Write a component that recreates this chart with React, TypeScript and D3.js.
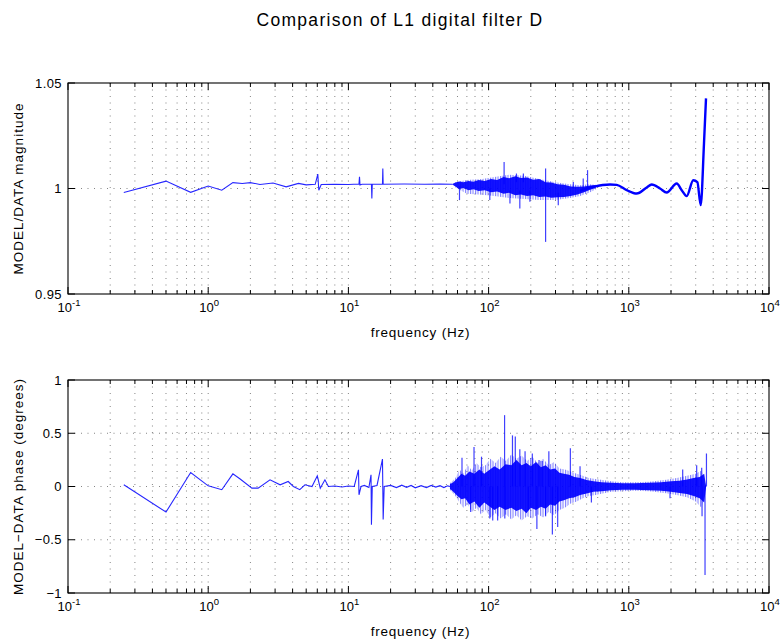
import React from 'react';
import * as d3 from 'd3';

// ---------- axis / tick data ----------
const xTickExps = [-1, 0, 1, 2, 3, 4];
const magTicks = [0.95, 1, 1.05];
const magTickLabels = ['0.95', '1', '1.05'];
const phaseTicks = [-1, -0.5, 0, 0.5, 1];
const phaseTickLabels = ['\u22121', '\u22120.5', '0', '0.5', '1'];
const titleText = 'Comparison of L1 digital filter D';
const magTitle = 'MODEL/DATA magnitude';
const phaseTitle = 'MODEL\u2212DATA phase (degrees)';
const xTitle = 'frequency (Hz)';

// ---------- magnitude (top panel) ----------
const magLowFreq = [0.25, 0.5, 0.75, 1, 1.25, 1.5, 1.75, 2, 2.34, 2.9, 3.6, 4.4, 5, 5.8, 6.05, 6.15, 6.4, 8, 10, 11.9, 12, 12.1, 12.5, 14.6, 14.7, 14.8, 17.5, 17.6, 17.7, 25, 35, 45, 55];
const magLowVal = [0.9981, 1.0035, 0.9982, 1.0012, 0.9992, 1.0028, 1.0024, 1.0028, 1.0019, 1.0026, 1.0008, 1.0024, 1.0017, 1.002, 1.0068, 0.9992, 1.0019, 1.002, 1.0019, 1.0021, 1.0055, 1.0017, 1.002, 1.002, 0.9953, 1.002, 1.002, 1.0095, 1.002, 1.0021, 1.002, 1.0021, 1.002];

const magBandFreq = [55, 58, 62, 66, 72, 78, 85, 94, 104, 115, 128, 140, 155, 170, 188, 208, 230, 255, 280, 310, 345, 385, 430, 480, 530, 580];
const magBandHi = [1.0021, 1.0028, 1.0033, 1.003, 1.0036, 1.0032, 1.004, 1.0036, 1.0045, 1.004, 1.0055, 1.0048, 1.0058, 1.005, 1.0052, 1.0042, 1.0045, 1.003, 1.0028, 1.002, 1.0018, 1.001, 1.0008, 1.001, 1.0014, 1.0017];
const magBandLo = [1.0019, 1.001, 0.9998, 1.0002, 0.9992, 0.9996, 0.9988, 0.9992, 0.9982, 0.9986, 0.9975, 0.998, 0.9968, 0.9972, 0.9964, 0.9968, 0.996, 0.9962, 0.9956, 0.9958, 0.996, 0.9964, 0.9972, 0.9982, 0.9994, 1.0002];

const magFringeFreq = [58, 70, 90, 110, 140, 180, 230, 300, 380, 450, 520, 580];
const magFringeHi = [1.003, 1.004, 1.0045, 1.0055, 1.0065, 1.006, 1.0045, 1.003, 1.002, 1.0015, 1.002, 1.0018];
const magFringeLo = [1.0005, 0.9975, 0.997, 0.9965, 0.9955, 0.995, 0.9945, 0.9945, 0.9955, 0.9965, 0.998, 0.9995];

const magHighFreq = [449, 558, 735, 820, 966, 1138, 1342, 1457, 1670, 1863, 2198, 2384, 2588, 2884, 3083, 3258, 3438, 3554];
const magHighVal = [0.999, 1.0008, 1.0019, 1.0017, 0.9992, 0.9976, 1.0005, 1.0019, 1.0, 0.9981, 1.0024, 0.9992, 0.9964, 1.0039, 1.003, 0.9921, 1.0213, 1.0427];

const magSpikeFreq = [62, 102, 129, 142, 158, 167, 177, 197, 255, 314, 402, 473, 508];
const magSpikeFrom = [1.001, 1.0, 1.002, 0.999, 1.003, 0.999, 1.003, 0.999, 0.9747, 0.998, 1.0, 1.0, 1.0];
const magSpikeTo = [0.9945, 0.9945, 1.0126, 0.9929, 1.0071, 0.9905, 1.0071, 0.9937, 1.0095, 0.9921, 1.0031, 1.0047, 1.0087];

// ---------- phase (bottom panel) ----------
const phaseLowFreq = [0.25, 0.5, 0.75, 1, 1.25, 1.5, 1.69, 2.05, 2.27, 2.76, 3.26, 3.72, 4.05, 4.5, 4.9, 5.5, 6.0, 6.3, 6.8, 7.2, 8, 9, 10, 11, 11.8, 11.9, 12.3, 13, 14, 14.5, 14.6, 14.8, 16, 17.5, 17.7, 18, 20, 22, 24, 26, 28, 30, 33, 36, 39, 42, 45, 48, 51, 53];
const phaseLowVal = [0.016, -0.24, 0.131, 0.006, -0.03, 0.119, 0.07, -0.015, -0.015, 0.063, 0.016, 0.047, 0.0, -0.03, 0.016, 0.0, 0.1, -0.016, 0.063, 0.0, 0.005, -0.005, 0.005, 0.0, 0.156, -0.078, 0.0, 0.01, -0.01, 0.11, -0.36, 0.0, 0.01, 0.257, -0.31, 0.0, 0.01, -0.01, 0.012, -0.008, 0.01, -0.012, 0.008, -0.01, 0.01, -0.006, 0.008, -0.01, 0.006, 0.0];

const phaseCoreFreq = [53, 56, 60, 64, 68, 73, 79, 86, 93, 100, 110, 120, 132, 145, 158, 172, 186, 200, 218, 236, 255, 275, 298, 320, 345, 375, 410, 450, 500, 560, 640, 750, 900, 1100, 1400, 1700, 2000, 2300, 2600, 2900, 3200, 3450, 3560];
const phaseCoreHi = [0.02, 0.04, 0.08, 0.12, 0.1, 0.14, 0.12, 0.16, 0.12, 0.15, 0.19, 0.16, 0.21, 0.2, 0.25, 0.2, 0.22, 0.19, 0.23, 0.18, 0.2, 0.16, 0.17, 0.13, 0.12, 0.11, 0.09, 0.08, 0.06, 0.05, 0.04, 0.035, 0.03, 0.03, 0.035, 0.04, 0.05, 0.055, 0.065, 0.08, 0.09, 0.12, 0];
const phaseCoreLo = [-0.02, -0.05, -0.09, -0.12, -0.11, -0.17, -0.14, -0.2, -0.15, -0.18, -0.22, -0.19, -0.22, -0.2, -0.23, -0.21, -0.25, -0.2, -0.22, -0.19, -0.21, -0.17, -0.18, -0.14, -0.13, -0.11, -0.1, -0.08, -0.065, -0.05, -0.045, -0.035, -0.03, -0.03, -0.035, -0.04, -0.05, -0.06, -0.07, -0.09, -0.11, -0.15, 0];

const phaseFringeFreq = [53, 58, 62, 66, 71, 76, 82, 88, 95, 103, 112, 122, 133, 145, 158, 172, 188, 205, 224, 245, 268, 293, 320, 350, 385, 425, 470, 520, 580, 650, 750, 900, 1100, 1400, 1800, 2200, 2600, 3000, 3300, 3560];
const phaseFringeHi = [0.03, 0.08, 0.16, 0.12, 0.2, 0.15, 0.22, 0.18, 0.2, 0.26, 0.22, 0.28, 0.24, 0.3, 0.26, 0.29, 0.24, 0.28, 0.22, 0.26, 0.2, 0.23, 0.17, 0.16, 0.14, 0.12, 0.1, 0.08, 0.07, 0.06, 0.05, 0.04, 0.04, 0.045, 0.06, 0.08, 0.1, 0.12, 0.15, 0];
const phaseFringeLo = [-0.03, -0.09, -0.15, -0.2, -0.17, -0.24, -0.2, -0.26, -0.22, -0.29, -0.25, -0.3, -0.26, -0.31, -0.27, -0.32, -0.28, -0.3, -0.26, -0.29, -0.24, -0.27, -0.22, -0.2, -0.16, -0.14, -0.11, -0.09, -0.08, -0.065, -0.05, -0.045, -0.04, -0.045, -0.06, -0.08, -0.1, -0.14, -0.2, 0];

const phaseSpikeFreq = [64.6, 74.5, 78.7, 89, 102, 107, 116, 130, 130.5, 148, 155, 167, 182, 192, 205, 221, 229, 241, 255, 269, 285, 311, 383, 449, 541, 1968, 2423, 3049, 3311, 3330, 3497, 3580];
const phaseSpikeVal = [0.27, -0.24, 0.37, 0.28, -0.3, -0.32, -0.32, 0.67, -0.3, 0.48, 0.47, 0.35, 0.33, -0.22, 0.31, -0.4, 0.25, 0.24, -0.28, 0.33, -0.45, -0.38, 0.36, 0.19, -0.15, -0.11, 0.16, 0.2, 0.175, -0.28, -0.83, 0.31];

// ---------- layout ----------
const W = 780;
const H = 642;
const FONT = '"Liberation Sans", Arial, Helvetica, sans-serif';
const L = 68;
const R = 769;
const P1 = { top: 83, bottom: 294 };
const P2 = { top: 380, bottom: 593 };
const BLUE = '#0000ff';

const x = d3.scaleLog().domain([0.1, 1e4]).range([L, R]);
const yM = d3.scaleLinear().domain([0.95, 1.05]).range([P1.bottom, P1.top]);
const yP = d3.scaleLinear().domain([-1, 1]).range([P2.bottom, P2.top]);

const majorX = xTickExps.map((e) => Math.pow(10, e));
const minorX: number[] = [];
for (let e = -1; e < 4; e++) for (let m = 2; m <= 9; m++) minorX.push(m * Math.pow(10, e));

type Pt = [number, number];
const zip2 = (a: number[], b: number[]): Pt[] => a.map((v, i) => [v, b[i]]);

function Axes(props: {
  top: number;
  bottom: number;
  y: d3.ScaleLinear<number, number>;
  ticks: number[];
  labels: string[];
  title: string;
}) {
  const { top, bottom, y, ticks, labels, title } = props;
  const gridStyle = { stroke: '#777', strokeWidth: 0.9, strokeDasharray: '1 5.5', fill: 'none' };
  const cy = (top + bottom) / 2;
  return (
    <g>
      {[...majorX.slice(1, -1), ...minorX].map((v, i) => (
        <line key={'vg' + i} x1={x(v)} x2={x(v)} y1={top} y2={bottom} style={gridStyle} />
      ))}
      {ticks.slice(1, -1).map((v, i) => (
        <line key={'hg' + i} x1={L} x2={R} y1={y(v)} y2={y(v)} style={gridStyle} />
      ))}
      <rect x={L} y={top} width={R - L} height={bottom - top} fill="none" stroke="#000" strokeWidth={1.1} />
      {majorX.map((v, i) => (
        <g key={'xt' + i}>
          <line x1={x(v)} x2={x(v)} y1={bottom} y2={bottom - 7} stroke="#000" strokeWidth={1} />
          <line x1={x(v)} x2={x(v)} y1={top} y2={top + 7} stroke="#000" strokeWidth={1} />
        </g>
      ))}
      {minorX.map((v, i) => (
        <g key={'xm' + i}>
          <line x1={x(v)} x2={x(v)} y1={bottom} y2={bottom - 4} stroke="#000" strokeWidth={1} />
          <line x1={x(v)} x2={x(v)} y1={top} y2={top + 4} stroke="#000" strokeWidth={1} />
        </g>
      ))}
      {ticks.map((v, i) => (
        <g key={'yt' + i}>
          <line x1={L} x2={L + 7} y1={y(v)} y2={y(v)} stroke="#000" strokeWidth={1} />
          <line x1={R} x2={R - 7} y1={y(v)} y2={y(v)} stroke="#000" strokeWidth={1} />
          <text x={62} y={y(v) + 4.5} textAnchor="end" fontSize={13} fontFamily={FONT} letterSpacing={0.4} fill="#000">
            {labels[i]}
          </text>
        </g>
      ))}
      {xTickExps.map((e, i) => (
        <text key={'xl' + i} x={x(majorX[i]) + 1} y={bottom + 18} textAnchor="middle" fontSize={13} fontFamily={FONT} fill="#000">
          <tspan>10</tspan>
          <tspan dy={-6} fontSize={9.5}>{e}</tspan>
        </text>
      ))}
      <text x={(L + R) / 2 + 2} y={bottom + 43} textAnchor="middle" fontSize={13.5} letterSpacing={0.8} fontFamily={FONT} fill="#000">
        {xTitle}
      </text>
      <text transform={`translate(23,${cy}) rotate(-90)`} textAnchor="middle" fontSize={13.5} letterSpacing={1} fontFamily={FONT} fill="#000">
        {title}
      </text>
    </g>
  );
}

export default function App() {
  const lineM = d3.line<Pt>().x((d) => x(d[0])).y((d) => yM(d[1]));
  const lineMSmooth = d3.line<Pt>().x((d) => x(d[0])).y((d) => yM(d[1])).curve(d3.curveMonotoneX);
  const lineP = d3.line<Pt>().x((d) => x(d[0])).y((d) => yP(d[1]));

  const areaM = (f: number[], hi: number[], lo: number[]) =>
    d3
      .area<number>()
      .x((_, i) => x(f[i]))
      .y0((_, i) => yM(lo[i]))
      .y1((_, i) => yM(hi[i]))(f) || '';
  const areaP = (f: number[], hi: number[], lo: number[]) =>
    d3
      .area<number>()
      .x((_, i) => x(f[i]))
      .y0((_, i) => yP(lo[i]))
      .y1((_, i) => yP(hi[i]))(f) || '';

  return (
    <svg width={W} height={H} style={{ position: 'absolute', left: 0, top: 0, background: '#fff' }}>
      <defs>
        <pattern id="hatch" width={2.5} height={6} patternUnits="userSpaceOnUse">
          <rect x={0} y={0} width={1.1} height={6} fill={BLUE} fillOpacity={0.5} />
        </pattern>
        <clipPath id="c1">
          <rect x={L} y={P1.top} width={R - L} height={P1.bottom - P1.top} />
        </clipPath>
        <clipPath id="c2">
          <rect x={L} y={P2.top} width={R - L} height={P2.bottom - P2.top} />
        </clipPath>
      </defs>
      <rect x={0} y={0} width={W} height={H} fill="#fff" />

      <text x={400} y={26} textAnchor="middle" fontSize={17.5} letterSpacing={1.3} fontFamily={FONT} fill="#000">
        {titleText}
      </text>

      <Axes top={P1.top} bottom={P1.bottom} y={yM} ticks={magTicks} labels={magTickLabels} title={magTitle} />
      <g clipPath="url(#c1)">
        <path d={areaM(magFringeFreq, magFringeHi, magFringeLo)} fill="url(#hatch)" />
        <path d={areaM(magBandFreq, magBandHi, magBandLo)} fill={BLUE} fillOpacity={0.92} />
        {magSpikeFreq.map((f, i) => (
          <line key={'ms' + i} x1={x(f)} x2={x(f)} y1={yM(magSpikeFrom[i])} y2={yM(magSpikeTo[i])} stroke={BLUE} strokeWidth={1.2} strokeOpacity={0.75} />
        ))}
        <path d={lineM(zip2(magLowFreq, magLowVal)) || ''} fill="none" stroke={BLUE} strokeWidth={1.1} strokeOpacity={0.85} />
        <path d={lineMSmooth(zip2(magHighFreq, magHighVal)) || ''} fill="none" stroke={BLUE} strokeWidth={2.4} />
      </g>

      <Axes top={P2.top} bottom={P2.bottom} y={yP} ticks={phaseTicks} labels={phaseTickLabels} title={phaseTitle} />
      <g clipPath="url(#c2)">
        <path d={areaP(phaseFringeFreq, phaseFringeHi, phaseFringeLo)} fill="url(#hatch)" />
        <path d={areaP(phaseCoreFreq, phaseCoreHi, phaseCoreLo)} fill={BLUE} fillOpacity={0.92} />
        {phaseSpikeFreq.map((f, i) => (
          <line key={'ps' + i} x1={x(f)} x2={x(f)} y1={yP(0)} y2={yP(phaseSpikeVal[i])} stroke={BLUE} strokeWidth={1.2} strokeOpacity={0.75} />
        ))}
        <path d={lineP(zip2(phaseLowFreq, phaseLowVal)) || ''} fill="none" stroke={BLUE} strokeWidth={1.1} strokeOpacity={0.85} />
      </g>
    </svg>
  );
}
